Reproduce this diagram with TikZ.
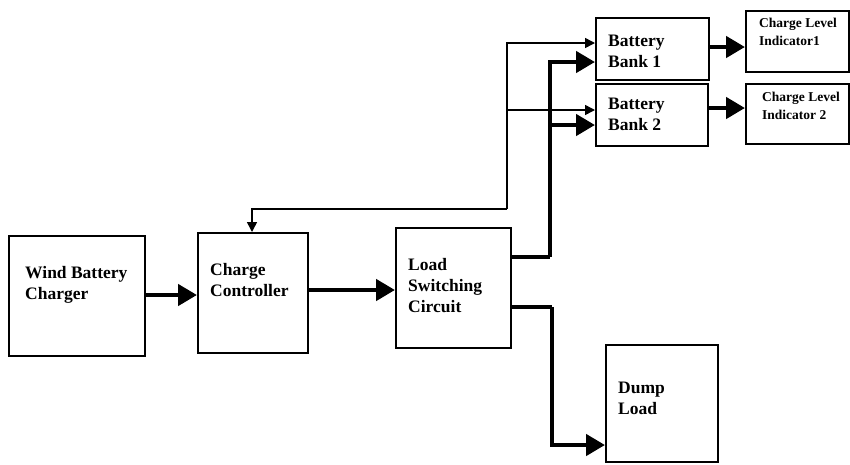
\documentclass[tikz,border=0pt]{standalone}
\usepackage{fontspec}
\setmainfont{Liberation Serif}
\usetikzlibrary{arrows.meta}
\begin{document}
\begin{tikzpicture}[x=1pt,y=-1pt,
  box/.style={draw, line width=1.8pt, anchor=north west, inner sep=0pt},
  txt/.style={anchor=west, align=left, font=\bfseries\fontsize{17.5}{21}\selectfont, inner sep=0pt},
  stxt/.style={anchor=west, align=left, font=\bfseries\fontsize{13.5}{18.5}\selectfont, inner sep=0pt},
  thick arr/.style={line width=4.5pt, -{Triangle[length=19pt,width=21pt]}},
  thin arr/.style={line width=1.5pt, -{Triangle[length=10pt,width=10pt]}}]
\useasboundingbox (0,0) rectangle (850,464);
% boxes
\node[box, minimum width=136pt, minimum height=120pt] (wind) at (8,235) {};
\node[box, minimum width=110pt, minimum height=120pt] (cc) at (197,232) {};
\node[box, minimum width=115pt, minimum height=120pt] (lsc) at (395,227) {};
\node[box, minimum width=112pt, minimum height=117pt] (dump) at (605,344) {};
\node[box, minimum width=113pt, minimum height=62pt] (bb1) at (595,17) {};
\node[box, minimum width=112pt, minimum height=62pt] (bb2) at (595,83) {};
\node[box, minimum width=103pt, minimum height=61pt] (cli1) at (745,10) {};
\node[box, minimum width=103pt, minimum height=60pt] (cli2) at (745,83) {};
% texts
\node[txt] (twind) at (25,285) {Wind Battery\\Charger};
\node[txt] (tcc) at (210,280) {Charge\\Controller};
\node[txt] (tlsc) at (408,286) {Load\\Switching\\Circuit};
\node[txt] (tdump) at (618,398) {Dump\\Load};
\node[txt] (tbb1) at (608,51) {Battery\\Bank 1};
\node[txt] (tbb2) at (608,114) {Battery\\Bank 2};
\node[stxt] (tcli1) at (759,32) {Charge Level\\Indicator1};
\node[stxt] (tcli2) at (762,106) {Charge Level\\Indicator 2};
% junction coordinates
\coordinate (j) at (507,209);
\coordinate (t1) at (550,257);
\coordinate (t2) at (552,307);
% thick connectors
\draw[thick arr] (wind.east |- 0,295) -- (cc.west |- 0,295);
\draw[thick arr] (cc.east |- 0,290) -- (lsc.west |- 0,290);
\draw[line width=4.5pt] (lsc.east |- t1) -- (t1);
\draw[thick arr] (t1) |- (bb1.west |- 0,62);
\draw[thick arr] (t1 |- 0,125) -- (bb2.west |- 0,125);
\draw[line width=4.5pt] (lsc.east |- t2) -- (t2);
\draw[thick arr] (t2) |- (dump.west |- 0,445);
\draw[thick arr] (bb1.east |- 0,47) -- (cli1.west |- 0,47);
\draw[thick arr] (bb2.east |- 0,108) -- (cli2.west |- 0,108);
% thin connectors
\draw[thin arr] (j) |- (bb1.west |- 0,43);
\draw[thin arr] (j |- 0,110) -- (bb2.west |- 0,110);
\draw[thin arr] (j) -| (cc.north -| 252,0);
\end{tikzpicture}
\end{document}
